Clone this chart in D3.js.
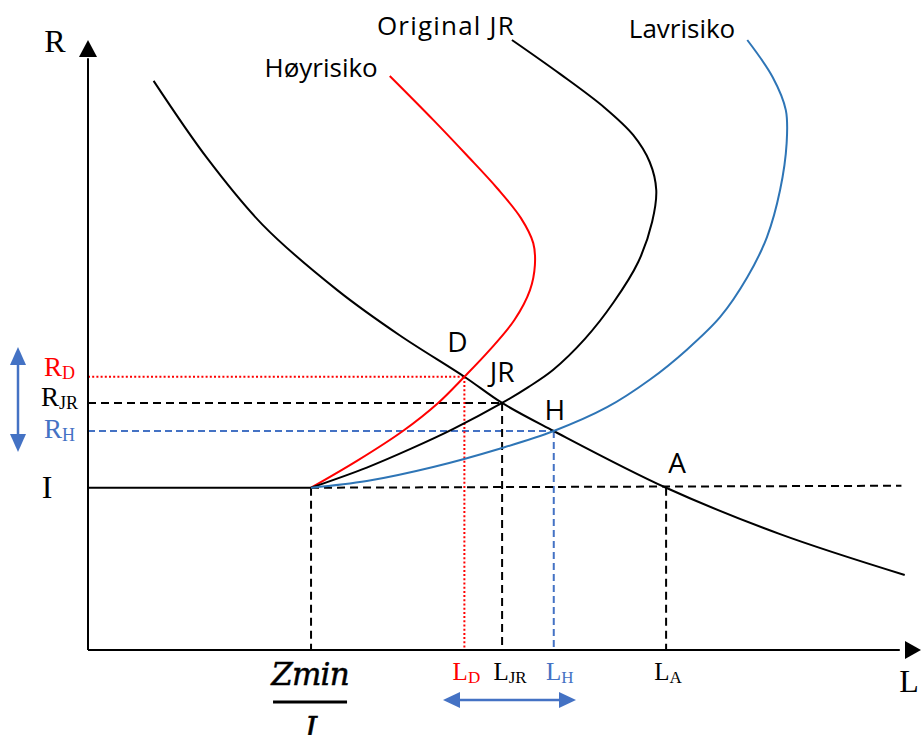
<!DOCTYPE html>
<html>
<head>
<meta charset="utf-8">
<script src="https://cdn.jsdelivr.net/npm/d3@7"></script>
<style>
  html, body { margin: 0; padding: 0; background: #fff; }
  svg { display: block; }
</style>
</head>
<body>
<script>
// Credit rationing diagram: loan demand vs. bank supply curves at three risk levels.

// Starting point of the supply curves: L = Zmin / I, R = I
const zMinOverI = 27.2;
const rateI = 26.6;

// Loan demand curve (downward sloping)
const demandL = [8.0, 14.6, 21.3, 30.4, 38.0, 45.9, 50.5, 56.8, 70.5, 84.4, 99.6];
const demandR = [93.3, 80.5, 69.7, 59.0, 51.6, 44.8, 40.5, 35.9, 26.6, 19.0, 12.3];

// Supply curve, high risk (Høyrisiko)
const highL = [27.2, 32.8, 38.4, 42.7, 45.9, 49.0, 52.0, 53.9, 54.5, 54.3, 52.8, 49.9, 46.2, 42.1, 36.8];
const highR = [26.6, 31.0, 35.9, 40.5, 44.8, 49.2, 54.1, 59.0, 63.1, 66.7, 70.8, 75.7, 81.1, 86.9, 94.1];

// Supply curve, original (Original JR)
const origL = [27.2, 34.0, 39.4, 44.5, 50.5, 53.7, 56.7, 60.6, 64.1, 67.1, 68.8, 69.3, 68.5, 66.5, 63.0, 57.6, 51.7];
const origR = [26.6, 29.9, 33.0, 36.2, 40.5, 43.1, 45.9, 51.0, 57.0, 63.6, 70.2, 75.4, 80.0, 84.4, 88.9, 94.4, 100];

// Supply curve, low risk (Lavrisiko)
const lowL = [27.2, 34.0, 42.1, 50.2, 56.8, 63.3, 68.5, 73.0, 77.1, 80.4, 82.8, 84.4, 85.2, 85.1, 83.5, 80.4];
const lowR = [26.6, 27.7, 30.0, 33.0, 35.9, 39.8, 44.3, 49.2, 54.6, 61.1, 67.7, 75.4, 83.1, 88.5, 93.9, 100];

// Intersection points
const pointNames = ["D", "JR", "H", "A"];
const pointL = [45.9, 50.5, 56.8, 70.5];
const pointR = [44.8, 40.5, 35.9, 26.6];

// Axis label subscripts for the intersections
const rateSubs = ["D", "JR", "H"];
const loanSubs = ["D", "JR", "H", "A"];

const curveNames = ["Høyrisiko", "Original JR", "Lavrisiko"];

const W = 921, H = 735;
const RED = "#ff0000", BLUE = "#2e75b6", DBLUE = "#4472c4", BLACK = "#000";

const x = d3.scaleLinear().domain([0, 100]).range([88, 908]);
const y = d3.scaleLinear().domain([0, 100]).range([650, 40]);

const svg = d3.select("body").append("svg")
  .attr("width", W).attr("height", H)
  .attr("viewBox", `0 0 ${W} ${H}`);
svg.append("rect").attr("width", W).attr("height", H).attr("fill", "#fff");

const serif = "'Liberation Serif', 'Times New Roman', serif";
const sans = "'Open Sans', 'Noto Sans', sans-serif";

// ---------- reference lines ----------
const g = svg.append("g");
const pts = pointNames.map((n, i) => ({ name: n, L: pointL[i], R: pointR[i] }));
const refStyle = {
  D: { color: RED, dash: "2,2.2" },
  JR: { color: BLACK, dash: "8,5" },
  H: { color: DBLUE, dash: "7,4" },
  A: { color: BLACK, dash: "8,5" }
};

// horizontal lines from the rate axis to D, JR, H
pts.slice(0, 3).forEach(p => {
  g.append("line")
    .attr("x1", x(0)).attr("x2", x(p.L))
    .attr("y1", y(p.R)).attr("y2", y(p.R))
    .attr("stroke", refStyle[p.name].color).attr("stroke-width", 2)
    .attr("stroke-dasharray", refStyle[p.name].dash);
});
// vertical lines from every point to the loan axis
pts.forEach(p => {
  g.append("line")
    .attr("x1", x(p.L)).attr("x2", x(p.L))
    .attr("y1", y(p.R)).attr("y2", y(0))
    .attr("stroke", refStyle[p.name].color).attr("stroke-width", 2)
    .attr("stroke-dasharray", refStyle[p.name].dash);
});
// rate I: solid up to Zmin/I, dashed beyond
g.append("line")
  .attr("x1", x(0)).attr("x2", x(zMinOverI))
  .attr("y1", y(rateI)).attr("y2", y(rateI))
  .attr("stroke", BLACK).attr("stroke-width", 2);
g.append("line")
  .attr("x1", x(zMinOverI)).attr("x2", x(99.2))
  .attr("y1", y(rateI)).attr("y2", y(rateI) - 2)
  .attr("stroke", BLACK).attr("stroke-width", 2)
  .attr("stroke-dasharray", "8,5");
g.append("line")
  .attr("x1", x(zMinOverI)).attr("x2", x(zMinOverI))
  .attr("y1", y(rateI)).attr("y2", y(0))
  .attr("stroke", BLACK).attr("stroke-width", 2)
  .attr("stroke-dasharray", "8,5");

// ---------- curves ----------
const line = d3.line()
  .x(d => x(d[0])).y(d => y(d[1]))
  .curve(d3.curveCatmullRom.alpha(0.5));
const zip = (a, b) => a.map((v, i) => [v, b[i]]);

const curves = [
  { data: zip(demandL, demandR), color: BLACK },
  { data: zip(highL, highR), color: RED },
  { data: zip(origL, origR), color: BLACK },
  { data: zip(lowL, lowR), color: BLUE }
];
svg.append("g").selectAll("path").data(curves).join("path")
  .attr("d", d => line(d.data))
  .attr("fill", "none")
  .attr("stroke", d => d.color)
  .attr("stroke-width", 2);

// ---------- axes ----------
const ax = svg.append("g");
ax.append("line").attr("x1", x(0)).attr("x2", x(0))
  .attr("y1", y(0)).attr("y2", y(97)).attr("stroke", BLACK).attr("stroke-width", 2);
ax.append("line").attr("x1", x(0)).attr("x2", x(99))
  .attr("y1", y(0)).attr("y2", y(0)).attr("stroke", BLACK).attr("stroke-width", 2);
// arrow heads
ax.append("path")
  .attr("d", `M${x(0)},${y(100)} L${x(0) - 9},${y(100) + 17} L${x(0) + 9},${y(100) + 17} Z`)
  .attr("fill", BLACK);
ax.append("path")
  .attr("d", `M${W},${y(0)} L${W - 16},${y(0) - 9} L${W - 16},${y(0) + 9} Z`)
  .attr("fill", BLACK);

// axis names
svg.append("text").attr("x", 55).attr("y", 52).attr("text-anchor", "middle")
  .attr("font-family", serif).attr("font-size", 32).text("R");
svg.append("text").attr("x", 909).attr("y", 692).attr("text-anchor", "middle")
  .attr("font-family", serif).attr("font-size", 32).text("L");
svg.append("text").attr("x", 47).attr("y", 498).attr("text-anchor", "middle")
  .attr("font-family", serif).attr("font-size", 32).text("I");

// ---------- rate labels on the vertical axis ----------
const subColor = { D: RED, JR: BLACK, H: DBLUE, A: BLACK };
const rateDy = { D: -1, JR: 3, H: 7 };
const rateX = { D: 75, JR: 78, H: 75 };
rateSubs.forEach((s, i) => {
  const p = pts[i];
  const t = svg.append("text")
    .attr("x", rateX[s]).attr("y", y(p.R) + rateDy[s])
    .attr("text-anchor", "end")
    .attr("font-family", serif).attr("fill", subColor[s]);
  t.append("tspan").attr("font-size", 27).text("R");
  t.append("tspan").attr("font-size", 18).attr("dy", 3).text(s);
});

// ---------- loan labels under the horizontal axis ----------
const loanDx = { D: 2, JR: 8, H: 6, A: 2 };
loanSubs.forEach((s, i) => {
  const p = pts[i];
  const t = svg.append("text")
    .attr("x", x(p.L) + loanDx[s]).attr("y", 680)
    .attr("text-anchor", "middle")
    .attr("font-family", serif).attr("fill", subColor[s]);
  t.append("tspan").attr("font-size", 25).text("L");
  t.append("tspan").attr("font-size", 17).attr("dy", 3).text(s);
});

// Zmin / I fraction
const fx = x(zMinOverI);
svg.append("text").attr("x", fx - 1).attr("y", 685).attr("text-anchor", "middle")
  .attr("font-family", "'DejaVu Serif', serif").attr("font-style", "italic")
  .attr("font-size", 31).attr("letter-spacing", -0.8)
  .attr("stroke", BLACK).attr("stroke-width", 0.5)
  .text("Zmin");
svg.append("line").attr("x1", fx - 38).attr("x2", fx + 36)
  .attr("y1", 702).attr("y2", 702).attr("stroke", BLACK).attr("stroke-width", 3);
svg.append("text").attr("x", fx).attr("y", 739).attr("text-anchor", "middle")
  .attr("font-family", "'DejaVu Serif', serif").attr("font-style", "italic")
  .attr("font-size", 31).attr("stroke", BLACK).attr("stroke-width", 0.5)
  .text("I");

// ---------- point labels ----------
const ptOffset = { D: [-7, -25], JR: [0, -21], H: [1, -11], A: [11, -15] };
svg.append("g").selectAll("text").data(pts).join("text")
  .attr("x", d => x(d.L) + ptOffset[d.name][0])
  .attr("y", d => y(d.R) + ptOffset[d.name][1])
  .attr("text-anchor", "middle")
  .attr("font-family", sans).attr("font-size", 28)
  .text(d => d.name);

// ---------- curve names ----------
const tops = [
  [highL[highL.length - 1], highR[highR.length - 1]],
  [origL[origL.length - 1], origR[origR.length - 1]],
  [lowL[lowL.length - 1], lowR[lowR.length - 1]]
];
const nameOffset = [[-12, 1], [3, -5], [-12, -2]];
const nameSpacing = [0, 1.2, 0];
curveNames.forEach((n, i) => {
  svg.append("text")
    .attr("x", x(tops[i][0]) + nameOffset[i][0])
    .attr("y", y(tops[i][1]) + nameOffset[i][1])
    .attr("text-anchor", "end")
    .attr("font-family", sans).attr("font-size", 26)
    .attr("letter-spacing", nameSpacing[i])
    .text(n);
});

// ---------- double-headed arrows showing the spread ----------
const arrowV = svg.append("g").attr("fill", DBLUE).attr("stroke", DBLUE);
const ax0 = 18, ayTop = 347, ayBot = 452;
arrowV.append("line").attr("x1", ax0).attr("x2", ax0)
  .attr("y1", ayTop + 12).attr("y2", ayBot - 12).attr("stroke-width", 2.5);
arrowV.append("path").attr("stroke", "none")
  .attr("d", `M${ax0},${ayTop} L${ax0 - 8},${ayTop + 18} L${ax0 + 8},${ayTop + 18} Z`);
arrowV.append("path").attr("stroke", "none")
  .attr("d", `M${ax0},${ayBot} L${ax0 - 8},${ayBot - 18} L${ax0 + 8},${ayBot - 18} Z`);

const arrowH = svg.append("g").attr("fill", DBLUE).attr("stroke", DBLUE);
const hy = 700, hx0 = 443, hx1 = 576;
arrowH.append("line").attr("x1", hx0 + 12).attr("x2", hx1 - 12)
  .attr("y1", hy).attr("y2", hy).attr("stroke-width", 2.5);
arrowH.append("path").attr("stroke", "none")
  .attr("d", `M${hx0},${hy} L${hx0 + 17},${hy - 8} L${hx0 + 17},${hy + 8} Z`);
arrowH.append("path").attr("stroke", "none")
  .attr("d", `M${hx1},${hy} L${hx1 - 17},${hy - 8} L${hx1 - 17},${hy + 8} Z`);
</script>
</body>
</html>
